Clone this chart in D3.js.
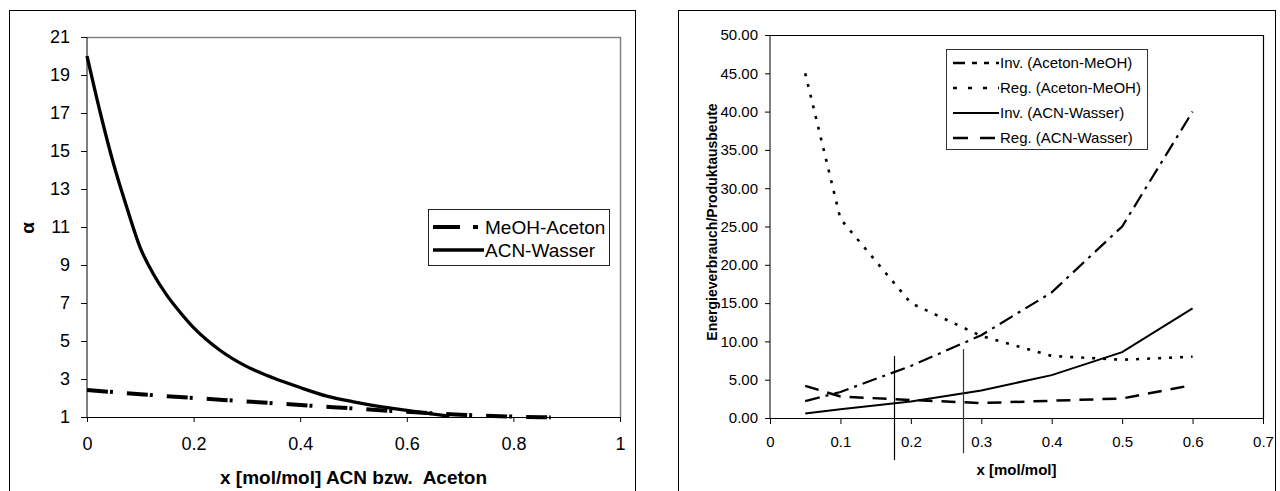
<!DOCTYPE html>
<html><head><meta charset="utf-8">
<script src="https://cdn.jsdelivr.net/npm/d3@7/dist/d3.min.js"></script>
<style>
body{margin:0;background:#fff}
svg{display:block}
text{font-family:"Liberation Sans",Arial,sans-serif;fill:#000}
</style>
</head><body>
<svg id="c" width="1280" height="491"></svg>
<script>
// ---------- Left chart data ----------
const leftXTicks = [0, 0.2, 0.4, 0.6, 0.8, 1];
const leftYTicks = [1, 3, 5, 7, 9, 11, 13, 15, 17, 19, 21];
const acnX = [0, 0.025, 0.05, 0.075, 0.1, 0.125, 0.15, 0.175, 0.2, 0.25, 0.3, 0.35, 0.4, 0.45, 0.5, 0.55, 0.6, 0.65, 0.68];
const acnWasser = [20, 17, 14.3, 12, 9.9, 8.5, 7.4, 6.5, 5.7, 4.5, 3.65, 3.05, 2.55, 2.1, 1.8, 1.55, 1.35, 1.15, 1.05];
const meohX = [0, 0.1, 0.2, 0.3, 0.4, 0.5, 0.6, 0.7, 0.8, 0.87];
const meohAceton = [2.42, 2.2, 2.0, 1.82, 1.63, 1.45, 1.27, 1.12, 1.02, 0.98];
const leftSeriesNames = ["MeOH-Aceton", "ACN-Wasser"];
const leftXTitle = "x [mol/mol] ACN bzw.\u00A0 Aceton";
const leftYTitle = "\u03B1";

// ---------- Right chart data ----------
const rightXTicks = [0, 0.1, 0.2, 0.3, 0.4, 0.5, 0.6, 0.7];
const rightYTicks = [0, 5, 10, 15, 20, 25, 30, 35, 40, 45, 50];
const rightX = [0.05, 0.1, 0.2, 0.3, 0.4, 0.5, 0.6];
const invAcetonMeOH = [2.2, 3.4, 6.8, 10.8, 16.4, 25.0, 40.0];
const regAcetonMeOH = [45.0, 26.0, 15.0, 10.7, 8.1, 7.6, 8.0];
const invAcnWasser = [0.6, 1.15, 2.15, 3.6, 5.6, 8.6, 14.3];
const regAcnWasser = [4.2, 2.8, 2.35, 1.95, 2.25, 2.55, 4.3];
const rightSeriesNames = ["Inv. (Aceton-MeOH)", "Reg. (Aceton-MeOH)", "Inv. (ACN-Wasser)", "Reg. (ACN-Wasser)"];
const markX = [0.176, 0.274];
const markTop = [8.1, 9.0];
const markBottom = [-5.5, -4.6];
const rightXTitle = "x [mol/mol]";
const rightYTitle = "Energieverbrauch/Produktausbeute";

const svg = d3.select("#c");

function styleAxis(g, fs) {
  g.selectAll(".domain").attr("stroke", "#000").attr("stroke-width", 1);
  g.selectAll(".tick line").attr("stroke", "#000");
  g.selectAll(".tick text").attr("font-size", fs).attr("font-family", '"Liberation Sans",Arial,sans-serif').attr("fill", "#000");
}

// ================= LEFT CHART =================
svg.append("rect").attr("x", 9.5).attr("y", 10.5).attr("width", 626).attr("height", 500)
  .attr("fill", "#fff").attr("stroke", "#000");
const L = {x0: 87, x1: 620, y0: 37, y1: 417};
const lx = d3.scaleLinear().domain([0, 1]).range([L.x0, L.x1]);
const ly = d3.scaleLinear().domain([1, 21]).range([L.y1, L.y0]);

svg.append("path")
  .attr("d", `M${L.x0},${L.y0 + 0.5}H${L.x1 + 0.5}V${L.y1}`)
  .attr("fill", "none").attr("stroke", "#808080").attr("stroke-width", 1.5);

const lyAxis = svg.append("g").attr("transform", `translate(${L.x0},0)`)
  .call(d3.axisLeft(ly).tickValues(leftYTicks).tickSize(6).tickPadding(11).tickFormat(d3.format("d")));
styleAxis(lyAxis, 18);
const lxAxis = svg.append("g").attr("transform", `translate(0,${L.y1})`)
  .call(d3.axisBottom(lx).tickValues(leftXTicks).tickSize(5).tickPadding(15).tickFormat(d3.format("~g")));
styleAxis(lxAxis, 18);
lyAxis.select(".domain").attr("d", `M-6,${L.y0 + 0.5}H0V${L.y1 + 0.5}`);

const lLineSmooth = d3.line().x(d => lx(d[0])).y(d => ly(d[1])).curve(d3.curveMonotoneX);
svg.append("path").datum(meohX.map((x, i) => [x, meohAceton[i]]))
  .attr("d", lLineSmooth).attr("fill", "none").attr("stroke", "#000")
  .attr("stroke-width", 4).attr("stroke-dasharray", "21,2,3,14");
svg.append("path").datum(acnX.map((x, i) => [x, acnWasser[i]]))
  .attr("d", lLineSmooth).attr("fill", "none").attr("stroke", "#000")
  .attr("stroke-width", 3.3).attr("stroke-linejoin", "round");

// titles
svg.append("text").attr("x", (L.x0 + L.x1) / 2).attr("y", 484).attr("text-anchor", "middle")
  .attr("font-size", 19).attr("font-weight", "bold").text(leftXTitle);
svg.append("text").attr("transform", "translate(34,228) rotate(-90)").attr("text-anchor", "middle")
  .attr("font-size", 19).attr("font-weight", "bold").text(leftYTitle);

// legend left
const lg = svg.append("g");
lg.append("rect").attr("x", 428.5).attr("y", 209.5).attr("width", 181).attr("height", 56)
  .attr("fill", "#fff").attr("stroke", "#222");
const lLeg = [
  {dash: "27,13,5,40", w: 4, y: 227},
  {dash: null, w: 3.3, y: 250}
];
lLeg.forEach((e, i) => {
  lg.append("line").attr("x1", 433).attr("x2", 484).attr("y1", e.y).attr("y2", e.y)
    .attr("stroke", "#000").attr("stroke-width", e.w).attr("stroke-dasharray", e.dash);
  lg.append("text").attr("x", 485).attr("y", e.y + 6.8).attr("font-size", 19).text(leftSeriesNames[i]);
});

// ================= RIGHT CHART =================
svg.append("rect").attr("x", 678.5).attr("y", 10.5).attr("width", 597).attr("height", 500)
  .attr("fill", "#fff").attr("stroke", "#000");
const R = {x0: 770, x1: 1263, y0: 35, y1: 418};
const rx = d3.scaleLinear().domain([0, 0.7]).range([R.x0, R.x1]);
const ry = d3.scaleLinear().domain([0, 50]).range([R.y1, R.y0]);

svg.append("path")
  .attr("d", `M${R.x0},${R.y0 + 0.5}H${R.x1 + 0.5}V${R.y1}`)
  .attr("fill", "none").attr("stroke", "#000").attr("stroke-width", 1.2);

const ryAxis = svg.append("g").attr("transform", `translate(${R.x0},0)`)
  .call(d3.axisLeft(ry).tickValues(rightYTicks).tickSize(5).tickPadding(7).tickFormat(d3.format(".2f")));
styleAxis(ryAxis, 15);
ryAxis.select(".domain").attr("d", `M-5,${R.y0 + 0.5}H0V${R.y1 + 0.5}`);
const rxAxis = svg.append("g").attr("transform", `translate(0,${R.y1})`)
  .call(d3.axisBottom(rx).tickValues(rightXTicks).tickSize(6).tickPadding(12).tickFormat(d3.format(".1~f")));
styleAxis(rxAxis, 15);

const rLine = d3.line().x(d => rx(d[0])).y(d => ry(d[1]));
const rSeries = [
  {v: invAcetonMeOH, dash: "15,6,3,6", w: 2.2},
  {v: regAcetonMeOH, dash: "3,8", w: 2.6},
  {v: invAcnWasser, dash: null, w: 2},
  {v: regAcnWasser, dash: "14,9", w: 2.5}
];
rSeries.forEach(s => {
  svg.append("path").datum(rightX.map((x, i) => [x, s.v[i]]))
    .attr("d", rLine).attr("fill", "none").attr("stroke", "#000")
    .attr("stroke-width", s.w).attr("stroke-dasharray", s.dash);
});

markX.forEach((m, i) => {
  svg.append("line").attr("x1", Math.round(rx(m)) + 0.5).attr("x2", Math.round(rx(m)) + 0.5)
    .attr("y1", ry(markTop[i])).attr("y2", ry(markBottom[i]))
    .attr("stroke", i === 0 ? "#000" : "#333").attr("stroke-width", 1.2);
});

// titles
svg.append("text").attr("x", rx(0.35)).attr("y", 475).attr("text-anchor", "middle")
  .attr("font-size", 15).attr("font-weight", "bold").text(rightXTitle);
svg.append("text").attr("transform", "translate(717,222) rotate(-90)").attr("text-anchor", "middle")
  .attr("font-size", 14).attr("font-weight", "bold").text(rightYTitle);

// legend right
const rg = svg.append("g");
rg.append("rect").attr("x", 946.5).attr("y", 49.5).attr("width", 201).attr("height", 100)
  .attr("fill", "#fff").attr("stroke", "#333");
const rLegY = [63, 88, 113, 138];
const rLegDash = ["12,7,5,7,5,7,3,10", "4,11", null, "15,12"];
rSeries.forEach((s, i) => {
  rg.append("line").attr("x1", 953).attr("x2", 999).attr("y1", rLegY[i]).attr("y2", rLegY[i])
    .attr("stroke", "#000").attr("stroke-width", s.w + (i === 0 ? 0.5 : 0)).attr("stroke-dasharray", rLegDash[i]);
  rg.append("text").attr("x", 1000).attr("y", rLegY[i] + 5.3).attr("font-size", 15).text(rightSeriesNames[i]);
});
</script>
</body></html>
